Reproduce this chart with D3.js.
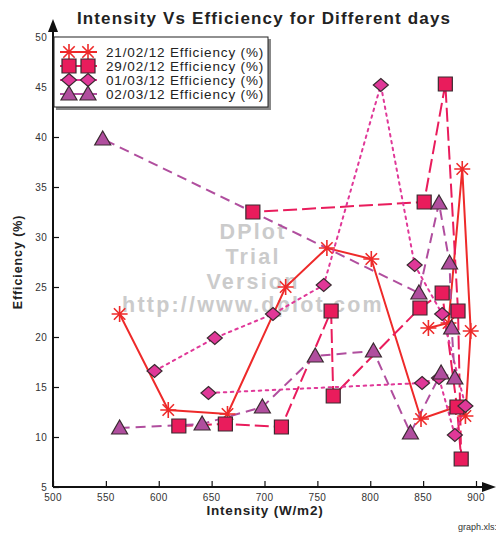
<!DOCTYPE html>
<html lang="en">
<head>
<meta charset="UTF-8">
<title>Intensity Vs Efficiency</title>
<script src="https://cdn.jsdelivr.net/npm/d3@7"></script>
<style>
  body { margin: 0; background: #fff; }
  svg { font-family: "Liberation Sans", Arial, sans-serif; }
</style>
</head>
<body>
<div id="chart"></div>
<script>
// series labels
var seriesNames = ["21/02/12 Efficiency (%)", "29/02/12 Efficiency (%)", "01/03/12 Efficiency (%)", "02/03/12 Efficiency (%)"];

// 21/02/12
var int21 = [563, 609, 665, 720, 759, 801, 848, 881, 890, 895, 887, 874, 855];
var eff21 = [22.3, 12.7, 12.3, 25.0, 28.9, 27.8, 11.8, 13.0, 12.1, 20.6, 36.8, 21.4, 20.9];
// 29/02/12
var int29 = [619, 663, 716, 763, 765, 847, 868, 882, 886, 883, 871, 851, 689];
var eff29 = [11.1, 11.3, 11.0, 22.6, 14.1, 22.9, 24.4, 13.0, 7.8, 22.6, 45.3, 33.5, 32.5];
// 01/03/12
var int01 = [596, 653, 708, 756, 810, 842, 868, 890, 880, 865, 849, 647];
var eff01 = [16.6, 19.9, 22.3, 25.2, 45.2, 27.2, 22.3, 13.1, 10.2, 15.9, 15.4, 14.4];
// 02/03/12
var int02 = [563, 641, 698, 748, 803, 838, 867, 880, 877, 875, 865, 846, 547];
var eff02 = [10.9, 11.3, 13.0, 18.1, 18.6, 10.4, 16.4, 15.9, 20.9, 27.4, 33.4, 24.4, 39.8];

var xTicks = [500, 550, 600, 650, 700, 750, 800, 850, 900];
var yTicks = [5, 10, 15, 20, 25, 30, 35, 40, 45, 50];

var W = 496, H = 536;
var svg = d3.select("#chart").append("svg").attr("width", W).attr("height", H);

var x = d3.scaleLinear().domain([500, 900]).range([53, 476]);
var y = d3.scaleLinear().domain([5, 50]).range([487, 37]);

// title
svg.append("text").attr("x", 264).attr("y", 24).attr("text-anchor", "middle")
    .style("font-size", "17px").style("font-weight", "bold").style("fill", "#222")
    .style("letter-spacing", "1.15px")
    .text("Intensity Vs Efficiency for Different days");

// watermark
var wm = ["DPlot", "Trial", "Version", "http://www.dplot.com"];
var wmY = [239, 264, 289, 312];
svg.selectAll(".wm").data(wm).enter().append("text")
    .attr("x", 253).attr("y", function (d, i) { return wmY[i] })
    .attr("text-anchor", "middle")
    .style("font-size", "21.5px").style("font-weight", "bold").style("fill", "#cbcbcb")
    .style("letter-spacing", "2.2px")
    .text(function (d) { return d });

// axes
var axisCol = "#111";
svg.append("line").attr("x1", 53).attr("x2", 488).attr("y1", 487).attr("y2", 487)
    .attr("stroke", axisCol).attr("stroke-width", 2);
svg.append("path").attr("d", "M496,487 L482,482 L482,492 Z").attr("fill", axisCol);
svg.append("line").attr("x1", 53).attr("x2", 53).attr("y1", 487).attr("y2", 28)
    .attr("stroke", axisCol).attr("stroke-width", 2);
svg.append("path").attr("d", "M53,19 L48,32 L58,32 Z").attr("fill", axisCol);

var xAxis = svg.append("g").attr("transform", "translate(0,487)")
    .call(d3.axisTop(x).tickValues(xTicks).tickSize(6).tickFormat(""));
xAxis.select(".domain").remove();
xAxis.selectAll("line").attr("stroke", axisCol).attr("stroke-width", 1.2);
svg.selectAll(".xl").data(xTicks).enter().append("text")
    .attr("x", function (d) { return x(d) }).attr("y", 501)
    .attr("text-anchor", "middle").style("font-size", "10px").style("fill", "#333")
    .style("letter-spacing", "0.3px")
    .text(function (d) { return d });

var yAxis = svg.append("g").attr("transform", "translate(53,0)")
    .call(d3.axisRight(y).tickValues(yTicks).tickSize(6).tickFormat(""));
yAxis.select(".domain").remove();
yAxis.selectAll("line").attr("stroke", axisCol).attr("stroke-width", 1.2);
svg.selectAll(".yl").data(yTicks).enter().append("text")
    .attr("x", 47).attr("y", function (d) { return y(d) + 4 })
    .attr("text-anchor", "end").style("font-size", "10px").style("fill", "#333")
    .style("letter-spacing", "0.3px")
    .text(function (d) { return d });

svg.append("text").attr("x", 265).attr("y", 515).attr("text-anchor", "middle")
    .style("font-size", "13.5px").style("font-weight", "bold").style("fill", "#222")
    .style("letter-spacing", "0.8px")
    .text("Intensity (W/m2)");
svg.append("text").attr("transform", "translate(22,262) rotate(-90)").attr("text-anchor", "middle")
    .style("font-size", "12.5px").style("font-weight", "bold").style("fill", "#222")
    .style("letter-spacing", "0.9px")
    .text("Efficiency (%)");
svg.append("text").attr("x", 497).attr("y", 530).attr("text-anchor", "end")
    .style("font-size", "9px").style("fill", "#333").text("graph.xls:");

// series styling
var series = [
    { name: seriesNames[0], xs: int21, ys: eff21, color: "#ee2a2a", dash: null, marker: "asterisk" },
    { name: seriesNames[1], xs: int29, ys: eff29, color: "#e91c5c", dash: "14,5", marker: "square" },
    { name: seriesNames[2], xs: int01, ys: eff01, color: "#e03898", dash: "2.5,4.5", marker: "diamond" },
    { name: seriesNames[3], xs: int02, ys: eff02, color: "#b04e9e", dash: "10,6", marker: "triangle" }
];

function markerPath(type) {
    if (type == "asterisk") return "M0,-8V8M-8,0H8M-5.7,-5.7L5.7,5.7M-5.7,5.7L5.7,-5.7";
    if (type == "square") return "M-7,-7H7V7H-7Z";
    if (type == "diamond") return "M0,-6.5L7.5,0L0,6.5L-7.5,0Z";
    return "M0,-8L8,6H-8Z";
}

function drawMarker(g, s, px, py) {
    var m = g.append("path").attr("d", markerPath(s.marker))
        .attr("transform", "translate(" + px + "," + py + ")");
    if (s.marker == "asterisk") m.attr("fill", "none").attr("stroke", s.color).attr("stroke-width", 1.6);
    else m.attr("fill", s.color).attr("stroke", "#3a2a30").attr("stroke-width", 1.2);
}

var line = d3.line().x(function (d) { return x(d[0]) }).y(function (d) { return y(d[1]) });

series.forEach(function (s) {
    var pts = s.xs.map(function (v, i) { return [v, s.ys[i]] });
    svg.append("path").datum(pts).attr("d", line)
        .attr("fill", "none").attr("stroke", s.color).attr("stroke-width", 2)
        .attr("stroke-dasharray", s.dash).attr("stroke-linecap", s.marker == "diamond" ? "round" : "butt");
});
series.forEach(function (s) {
    var g = svg.append("g");
    s.xs.forEach(function (v, i) { drawMarker(g, s, x(v), y(s.ys[i])) });
});

// legend
var lg = svg.append("g");
lg.append("rect").attr("x", 56).attr("y", 39).attr("width", 215).attr("height", 71).attr("fill", "#888");
lg.append("rect").attr("x", 54).attr("y", 37).attr("width", 214).attr("height", 70)
    .attr("fill", "#fff").attr("stroke", "#222").attr("stroke-width", 1);
series.forEach(function (s, i) {
    var ly = 52 + i * 14;
    lg.append("line").attr("x1", 60).attr("x2", 97).attr("y1", ly).attr("y2", ly)
        .attr("stroke", s.color).attr("stroke-width", 2);
    drawMarker(lg, s, 69, ly);
    drawMarker(lg, s, 88, ly);
    lg.append("text").attr("x", 106).attr("y", ly + 4.5).style("font-size", "13.5px").style("fill", "#222")
        .style("letter-spacing", "0.85px")
        .text(s.name);
});
</script>
</body>
</html>
